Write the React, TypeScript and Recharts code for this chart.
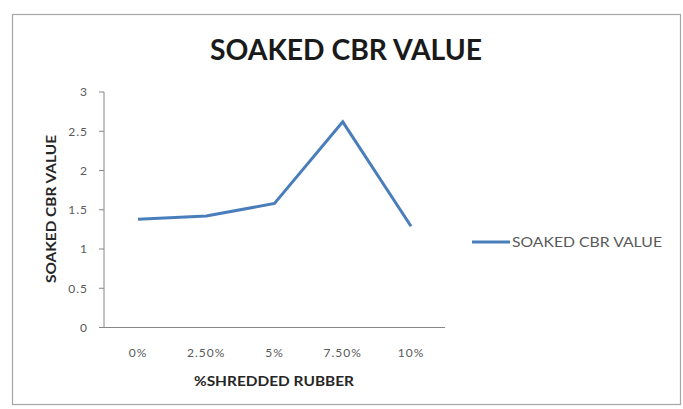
import React from 'react';
import { LineChart, Line, XAxis, YAxis, Legend } from 'recharts';

// Soaked CBR value against shredded rubber content
const categories = ['0%', '2.50%', '5%', '7.50%', '10%'];
const soakedCbr = [1.38, 1.42, 1.58, 2.62, 1.29];
const yTicks = [0, 0.5, 1, 1.5, 2, 2.5, 3];

const seriesName = 'SOAKED CBR VALUE';
const chartTitle = 'SOAKED CBR VALUE';
const xTitle = '%SHREDDED RUBBER';
const yTitle = 'SOAKED CBR VALUE';

const data = categories.map((c, i) => ({ category: c, value: soakedCbr[i] }));

const W = 683;
const H = 409;
const LINE_COLOR = '#4a7ebb';
const AXIS_COLOR = '#868686';
const TEXT_COLOR = '#595959';
const FONT = 'Lato, "Open Sans", sans-serif';

const LegendContent = (props: any) => {
  const item = (props.payload || [])[0];
  return (
    <svg width={222} height={24} style={{ display: 'block' }}>
      <line x1={27} x2={65} y1={12} y2={12} stroke={item ? item.color : LINE_COLOR} strokeWidth={3} />
      <text
        x={67}
        y={12}
        dominantBaseline="central"
        fontFamily={FONT}
        fontSize={12.5}
        fill={TEXT_COLOR}
        textLength={150}
        lengthAdjust="spacingAndGlyphs"
      >
        {item ? item.value : seriesName}
      </text>
    </svg>
  );
};

const YTitle = () => (
  <text
    x={50}
    y={209}
    transform="rotate(-90 50 209)"
    textAnchor="middle"
    dominantBaseline="central"
    fontFamily={FONT}
    fontWeight="bold"
    fontSize={14}
    fill="#262626"
    textLength={148}
    lengthAdjust="spacingAndGlyphs"
  >
    {yTitle}
  </text>
);

const XTitle = () => (
  <text
    x={274}
    y={380}
    textAnchor="middle"
    dominantBaseline="central"
    fontFamily={FONT}
    fontWeight="bold"
    fontSize={14}
    fill="#262626"
    textLength={160}
    lengthAdjust="spacingAndGlyphs"
  >
    {xTitle}
  </text>
);

export default function App() {
  return (
    <div style={{ position: 'absolute', left: 0, top: 0, width: W, height: H, background: '#fff' }}>
      <svg
        width={W}
        height={H}
        style={{ position: 'absolute', left: 0, top: 0, pointerEvents: 'none' }}
      >
        <rect x={12.5} y={14.5} width={668} height={390} fill="#fff" stroke="#a6a6a6" strokeWidth={1.2} />
        <text
          x={346}
          y={60}
          textAnchor="middle"
          fontFamily={FONT}
          fontWeight="bold"
          fontSize={29}
          fill="#1a1a1a"
          textLength={272}
          lengthAdjust="spacingAndGlyphs"
        >
          {chartTitle}
        </text>
      </svg>
      <div style={{ position: 'absolute', left: 0, top: 0 }}>
        <LineChart
          width={W}
          height={H}
          data={data}
          margin={{ top: 92, right: 16, bottom: 51.5, left: 44 }}
        >
          <XAxis
            dataKey="category"
            height={30}
            padding={{ left: 34, right: 34 }}
            axisLine={{ stroke: AXIS_COLOR }}
            tickLine={false}
            tickSize={6}
            tickMargin={15}
            tick={{ fill: TEXT_COLOR, fontSize: 12, fontFamily: FONT, letterSpacing: 1 }}
            label={<XTitle />}
          />
          <YAxis
            width={60}
            domain={[0, 3]}
            ticks={yTicks}
            interval={0}
            axisLine={{ stroke: AXIS_COLOR }}
            tickLine={{ stroke: AXIS_COLOR }}
            tickSize={5}
            tickMargin={11}
            tick={{ fill: TEXT_COLOR, fontSize: 12, fontFamily: FONT, letterSpacing: 1 }}
            label={<YTitle />}
          />
          <Legend
            layout="vertical"
            align="right"
            verticalAlign="middle"
            wrapperStyle={{ width: 222, top: 230 }}
            content={<LegendContent />}
          />
          <Line
            type="linear"
            dataKey="value"
            name={seriesName}
            stroke={LINE_COLOR}
            strokeWidth={3}
            dot={false}
            activeDot={false}
            isAnimationActive={false}
          />
        </LineChart>
      </div>
    </div>
  );
}
